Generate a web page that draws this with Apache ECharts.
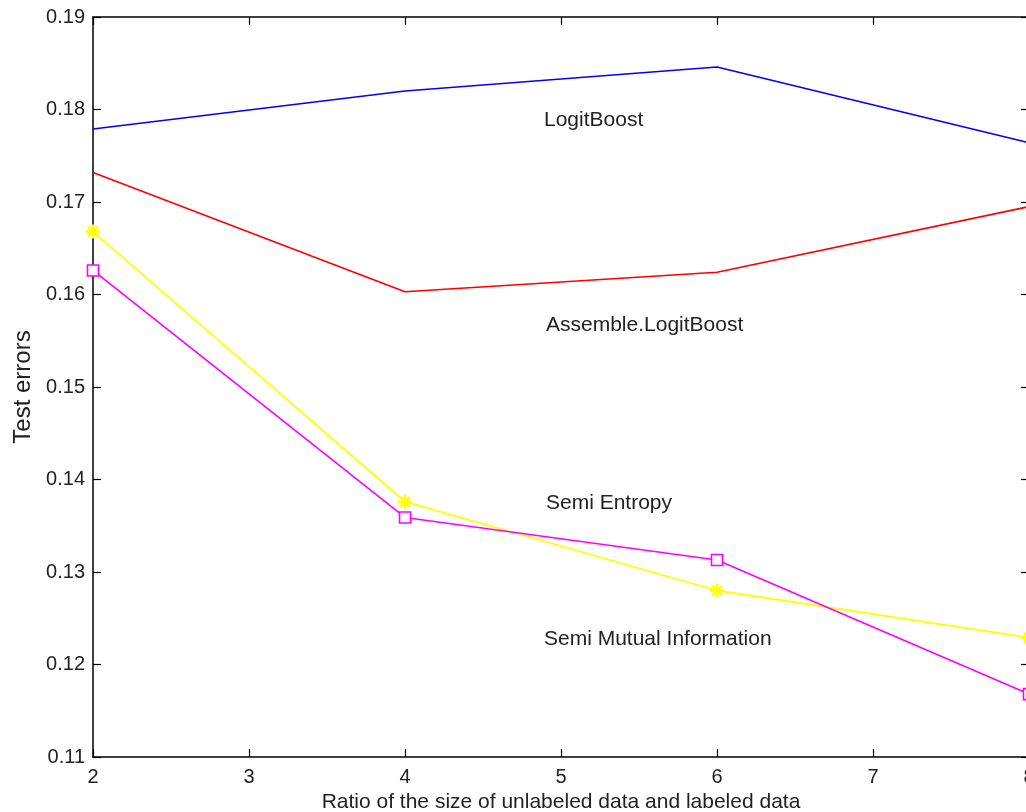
<!DOCTYPE html>
<html><head><meta charset="utf-8">
<script src="https://cdn.jsdelivr.net/npm/echarts@6/dist/echarts.min.js"></script>
<style>html,body{margin:0;padding:0;overflow:hidden;background:#fff;width:1026px;height:812px}#c{width:1040px;height:812px}</style>
</head><body><div id="c"></div>
<script>
const xValues = [2, 4, 6, 8];
const logitBoost = [0.1779, 0.1820, 0.1846, 0.1764];
const assembleLogitBoost = [0.1732, 0.1603, 0.1624, 0.1695];
const semiEntropy = [0.1668, 0.1376, 0.1280, 0.1229];
const semiMutualInfo = [0.1626, 0.1359, 0.1313, 0.1168];
const labels = [
  {text: 'LogitBoost', x: 544, y: 110},
  {text: 'Assemble.LogitBoost', x: 546, y: 315},
  {text: 'Semi Entropy', x: 546, y: 493},
  {text: 'Semi Mutual Information', x: 544, y: 629}
];
const pair = arr => xValues.map((x, i) => [x, arr[i]]);
const font = 'Liberation Sans, Arial, sans-serif';
const star = 'path://M0,-10 L0,10 M-10,0 L10,0 M-7,-7 L7,7 M-7,7 L7,-7';
const chart = echarts.init(document.getElementById('c'));
const axisCommon = {
  axisLine: {show: true, lineStyle: {color: '#000', width: 1.5}},
  axisTick: {show: true, inside: true, length: 8, lineStyle: {color: '#000', width: 1.2}},
  splitLine: {show: false}
};
const tickFont = {fontFamily: font, fontSize: 20, color: '#222'};
chart.setOption({
  animation: false,
  backgroundColor: '#fff',
  grid: {left: 93, top: 17, right: 11, bottom: 55, outerBoundsMode: 'none', containLabel: false},
  xAxis: [
    Object.assign({type: 'value', min: 2, max: 8, interval: 1, position: 'bottom',
      axisLabel: Object.assign({margin: 10}, tickFont),
      name: 'Ratio of the size of unlabeled data and labeled data', nameLocation: 'middle', nameGap: 33,
      nameTextStyle: {fontFamily: font, fontSize: 21, color: '#222'}}, axisCommon),
    Object.assign({type: 'value', min: 2, max: 8, interval: 1, position: 'top',
      axisLabel: {show: false}}, axisCommon)
  ],
  yAxis: [
    Object.assign({type: 'value', min: 0.11, max: 0.19, interval: 0.01, position: 'left',
      axisLabel: Object.assign({margin: 8, padding: [5, 0, 0, 0], formatter: v => v.toFixed(2)}, tickFont),
      name: 'Test errors', nameLocation: 'middle', nameGap: 58,
      nameTextStyle: {fontFamily: font, fontSize: 24, color: '#222'}}, axisCommon),
    Object.assign({type: 'value', min: 0.11, max: 0.19, interval: 0.01, position: 'right',
      axisLabel: {show: false}}, axisCommon)
  ],
  series: [
    {name: 'LogitBoost', type: 'line', data: pair(logitBoost), symbol: 'none',
      lineStyle: {color: '#0000ff', width: 1.6}, itemStyle: {color: '#0000ff'}},
    {name: 'Assemble.LogitBoost', type: 'line', data: pair(assembleLogitBoost), symbol: 'none',
      lineStyle: {color: '#ff0000', width: 1.6}, itemStyle: {color: '#ff0000'}},
    {name: 'Semi Entropy', type: 'line', data: pair(semiEntropy), symbol: star, symbolSize: 14,
      lineStyle: {color: '#ffff00', width: 1.8},
      itemStyle: {color: 'none', borderColor: '#ffff00', borderWidth: 2.5}},
    {name: 'Semi Mutual Information', type: 'line', data: pair(semiMutualInfo), symbol: 'rect', symbolSize: 11,
      lineStyle: {color: '#ff00ff', width: 1.6},
      itemStyle: {color: '#fff', borderColor: '#ff00ff', borderWidth: 1.6}, z: 3}
  ],
  graphic: labels.map(l => ({type: 'text', left: l.x, top: l.y,
    style: {text: l.text, fontFamily: font, fontSize: 21, fill: '#222'}}))
});
</script></body></html>
